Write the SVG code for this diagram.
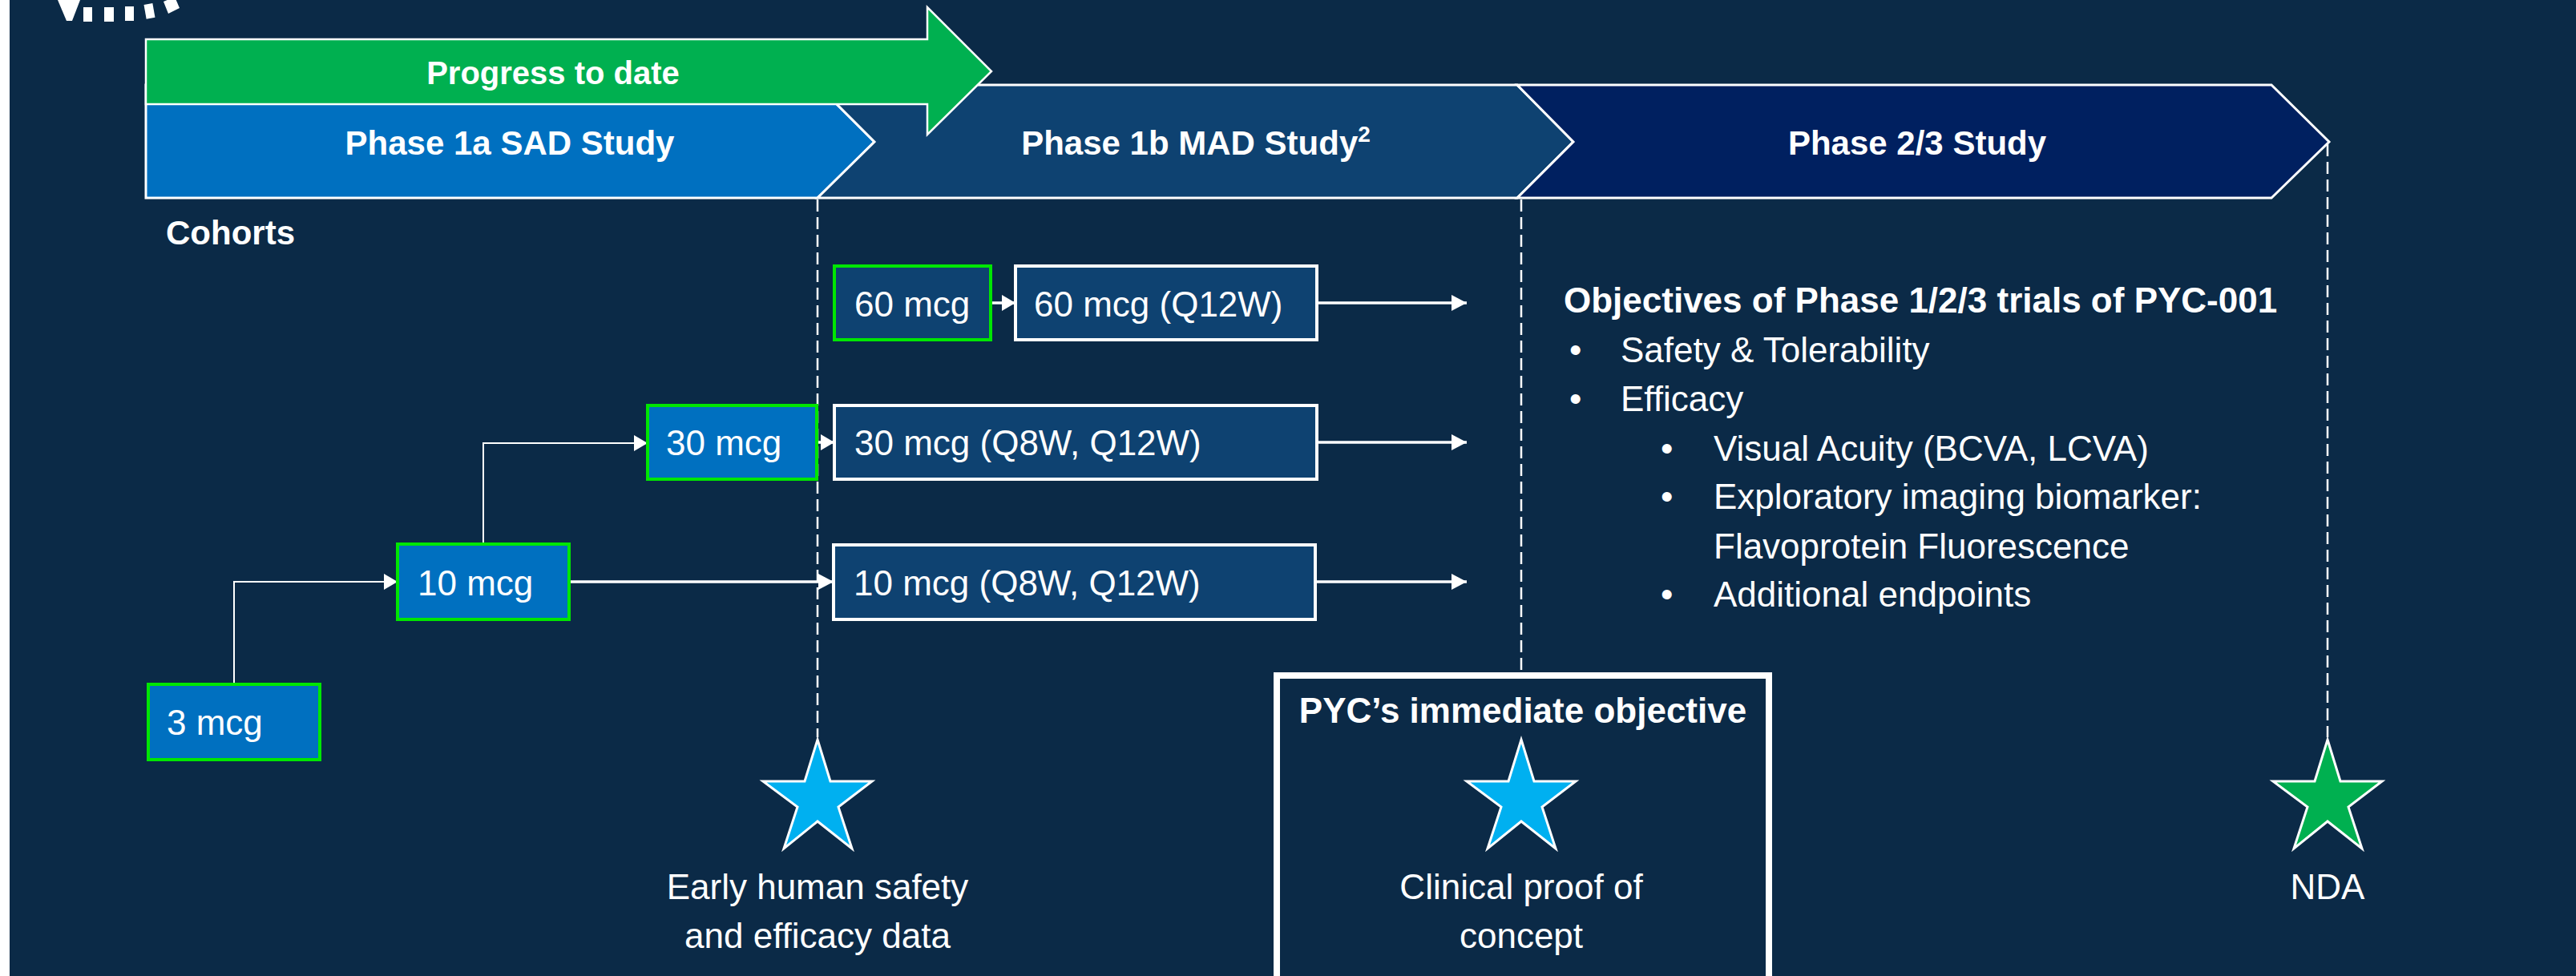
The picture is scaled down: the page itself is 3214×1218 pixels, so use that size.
<svg xmlns="http://www.w3.org/2000/svg" xmlns:xlink="http://www.w3.org/1999/xlink" width="3214" height="1218" viewBox="0 0 3214 1218">
<style>
text{font-family:"Liberation Sans",Arial,sans-serif;fill:#ffffff}
.b{font-weight:bold}
.h42{font-size:42px}
.h44{font-size:44px}
.r44{font-size:44px}
.phase{stroke:#ffffff;stroke-width:3}
.cohort{fill:#0070c0;stroke:#00e600;stroke-width:4}
.cohort2{fill:#0e4271;stroke:#00e600;stroke-width:4}
.mad{fill:#0e4271;stroke:#ffffff;stroke-width:4}
.dash{stroke:#ffffff;stroke-width:2.5;stroke-dasharray:15 7;fill:none}
.conn{stroke:#ffffff;fill:none}
.thin{stroke-width:2}
.thick{stroke-width:3.5}
.star{stroke:#ffffff;stroke-width:3}
</style>
<defs>
<marker id="arr" markerUnits="userSpaceOnUse" markerWidth="20" markerHeight="20" refX="19" refY="10" orient="auto">
<path d="M0,0 L19,10 L0,20 Z" fill="#ffffff"/>
</marker>
<marker id="arrs" markerUnits="userSpaceOnUse" markerWidth="18" markerHeight="20" refX="17" refY="10" orient="auto">
<path d="M0,0 L17,10 L0,20 Z" fill="#ffffff"/>
</marker>
<polygon id="starshape" points="0,923 16,975 68,975 26,1007 43,1059 0,1025 -42,1059 -25,1007 -68,975 -16,975"/>
</defs>
<rect x="0" y="0" width="3214" height="1218" fill="#0b2a47"/>
<rect x="0" y="0" width="12" height="1218" fill="#ffffff"/>
<g id="corner-mark" fill="#ffffff">
<polygon points="72,0 100,0 90,26 83,26"/>
<rect x="104" y="9" width="11" height="18"/>
<rect x="130" y="9" width="12" height="18"/>
<rect x="156" y="8" width="11" height="18"/>
<rect x="181" y="5" width="11" height="18" transform="rotate(-10 186 14)"/>
<polygon points="204,2 218,-4 224,10 210,17"/>
</g>
<g id="phase-1a">
<path class="phase" fill="#0070c0" d="M182,106 L1020,106 L1091,177 L1020,247 L182,247 Z"/>
<text class="b h42" x="636" y="193" text-anchor="middle">Phase 1a SAD Study</text>
</g>
<g id="phase-1b">
<path class="phase" fill="#0e4271" d="M1020,106 L1893,106 L1963,177 L1893,247 L1020,247 L1091,177 Z"/>
<text class="b h42" x="1492" y="193" text-anchor="middle">Phase 1b MAD Study<tspan font-size="28" dy="-16">2</tspan></text>
</g>
<g id="phase-23">
<path class="phase" fill="#002060" d="M1893,106 L2834,106 L2906,177 L2834,247 L1893,247 L1963,177 Z"/>
<text class="b h42" x="2392" y="193" text-anchor="middle">Phase 2/3 Study</text>
</g>
<g id="progress">
<path fill="#00b050" stroke="#ffffff" stroke-width="2.5" d="M182,49 L1157,49 L1157,9 L1237,89 L1157,168 L1157,130 L182,130 Z"/>
<text class="b" font-size="40" x="690" y="105" text-anchor="middle">Progress to date</text>
</g>
<text id="cohorts-label" class="b h42" x="207" y="305">Cohorts</text>
<g id="milestone-lines">
<line class="dash" x1="1020" y1="249" x2="1020" y2="920"/>
<line class="dash" x1="1898" y1="249" x2="1898" y2="839"/>
<line class="dash" x1="2904" y1="180" x2="2904" y2="920"/>
</g>
<g id="immediate-objective">
<rect x="1593" y="843" width="614" height="420" fill="none" stroke="#ffffff" stroke-width="8"/>
<text class="b h44" x="1900" y="902" text-anchor="middle">PYC’s immediate objective</text>
</g>
<g id="connectors">
<path class="conn thin" d="M292,854 V726 H496" marker-end="url(#arrs)"/>
<path class="conn thin" d="M603,679 V553 H808" marker-end="url(#arrs)"/>
<path class="conn thick" d="M710,726 H1040" marker-end="url(#arr)"/>
<path class="conn thick" d="M1019,552 H1041" marker-end="url(#arrs)"/>
<path class="conn thick" d="M1236,378 H1267" marker-end="url(#arrs)"/>
<path class="conn thick" d="M1643,378 H1830" marker-end="url(#arr)"/>
<path class="conn thick" d="M1643,552 H1830" marker-end="url(#arr)"/>
<path class="conn thick" d="M1641,726 H1830" marker-end="url(#arr)"/>
</g>
<g id="sad-3">
<rect class="cohort" x="185" y="854" width="214" height="94"/>
<text class="r44" x="208" y="917">3 mcg</text>
</g>
<g id="sad-10">
<rect class="cohort" x="496" y="679" width="214" height="94"/>
<text class="r44" x="521" y="743">10 mcg</text>
</g>
<g id="sad-30">
<rect class="cohort" x="808" y="506" width="211" height="92"/>
<text class="r44" x="831" y="568">30 mcg</text>
</g>
<g id="sad-60">
<rect class="cohort2" x="1041" y="332" width="195" height="92"/>
<text class="r44" x="1066" y="395">60 mcg</text>
</g>
<g id="mad-60">
<rect class="mad" x="1267" y="332" width="376" height="92"/>
<text class="r44" x="1290" y="395">60 mcg (Q12W)</text>
</g>
<g id="mad-30">
<rect class="mad" x="1041" y="506" width="602" height="92"/>
<text class="r44" x="1066" y="568">30 mcg (Q8W, Q12W)</text>
</g>
<g id="mad-10">
<rect class="mad" x="1040" y="680" width="601" height="93"/>
<text class="r44" x="1065" y="743">10 mcg (Q8W, Q12W)</text>
</g>
<g id="objectives">
<text class="b h44" x="1951" y="390">Objectives of Phase 1/2/3 trials of PYC-001</text>
<text class="r44" x="1958" y="452">•</text>
<text class="r44" x="2022" y="452">Safety &amp; Tolerability</text>
<text class="r44" x="1958" y="513">•</text>
<text class="r44" x="2022" y="513">Efficacy</text>
<text class="r44" x="2072" y="575">•</text>
<text class="r44" x="2138" y="575">Visual Acuity (BCVA, LCVA)</text>
<text class="r44" x="2072" y="635">•</text>
<text class="r44" x="2138" y="635">Exploratory imaging biomarker:</text>
<text class="r44" x="2138" y="697">Flavoprotein Fluorescence</text>
<text class="r44" x="2072" y="757">•</text>
<text class="r44" x="2138" y="757">Additional endpoints</text>
</g>
<g id="milestone-early">
<use xlink:href="#starshape" href="#starshape" x="1020" class="star" fill="#00b0f0"/>
<text class="r44" x="1020" y="1122" text-anchor="middle">Early human safety</text>
<text class="r44" x="1020" y="1183" text-anchor="middle">and efficacy data</text>
</g>
<g id="milestone-poc">
<use xlink:href="#starshape" href="#starshape" x="1898" class="star" fill="#00b0f0"/>
<text class="r44" x="1898" y="1122" text-anchor="middle">Clinical proof of</text>
<text class="r44" x="1898" y="1183" text-anchor="middle">concept</text>
</g>
<g id="milestone-nda">
<use xlink:href="#starshape" href="#starshape" x="2904" class="star" fill="#00b050"/>
<text class="r44" x="2904" y="1122" text-anchor="middle">NDA</text>
</g>
</svg>
